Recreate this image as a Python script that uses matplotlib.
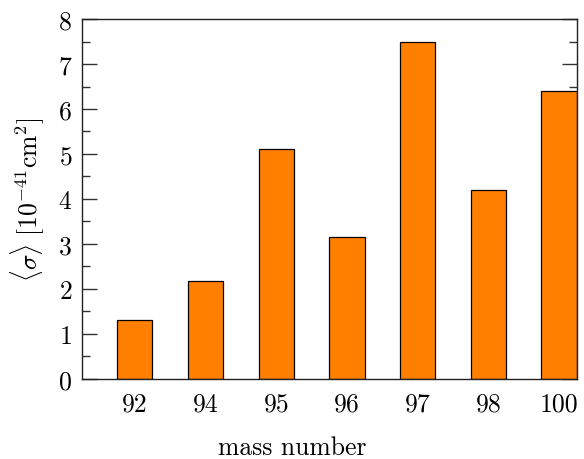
import matplotlib
matplotlib.use("Agg")
import matplotlib.pyplot as plt
from matplotlib.ticker import MultipleLocator

plt.rcParams["font.family"] = ["cmr10", "DejaVu Serif"]
plt.rcParams["mathtext.fontset"] = "cm"
plt.rcParams["axes.formatter.use_mathtext"] = True

mass_numbers = ["92", "94", "95", "96", "97", "98", "100"]
cross_section = [1.3, 2.18, 5.1, 3.15, 7.5, 4.2, 6.4]

fig = plt.figure(figsize=(5.84, 4.60), dpi=100)
ax = fig.add_axes([0.140, 0.174, 0.8475, 0.7825])

positions = list(range(len(mass_numbers)))
ax.bar(positions, cross_section, width=0.5, color="#FF8000",
       edgecolor="black", linewidth=0.9, zorder=2)

ax.set_xlim(-0.75, 6.25)
ax.set_ylim(0, 8)
ax.set_xticks(positions)
ax.set_xticklabels(mass_numbers)
ax.yaxis.set_major_locator(MultipleLocator(1))
ax.yaxis.set_minor_locator(MultipleLocator(0.5))

fs = 18.5
ax.tick_params(axis="y", which="major", direction="in", length=11,
               width=1.0, left=True, right=True, labelsize=fs, pad=7,
               color="#333333")
ax.tick_params(axis="y", which="minor", direction="in", length=5.8,
               width=1.0, left=True, right=True, color="#333333")
ax.tick_params(axis="x", which="both", length=0, labelsize=fs, pad=9)

for s in ax.spines.values():
    s.set_linewidth(1.0)
    s.set_color("#222222")
    s.set_zorder(3)

ax.set_xlabel("mass number", fontsize=fs, labelpad=13)
ax.xaxis.set_label_coords(0.426, -0.19)
ax.xaxis.label.set_verticalalignment("center")
ax.set_ylabel(r"$\langle\sigma\rangle\ [10^{-41}\mathrm{cm}^2]$",
              fontsize=fs, labelpad=8)

fig.savefig("out.png", dpi=100)
